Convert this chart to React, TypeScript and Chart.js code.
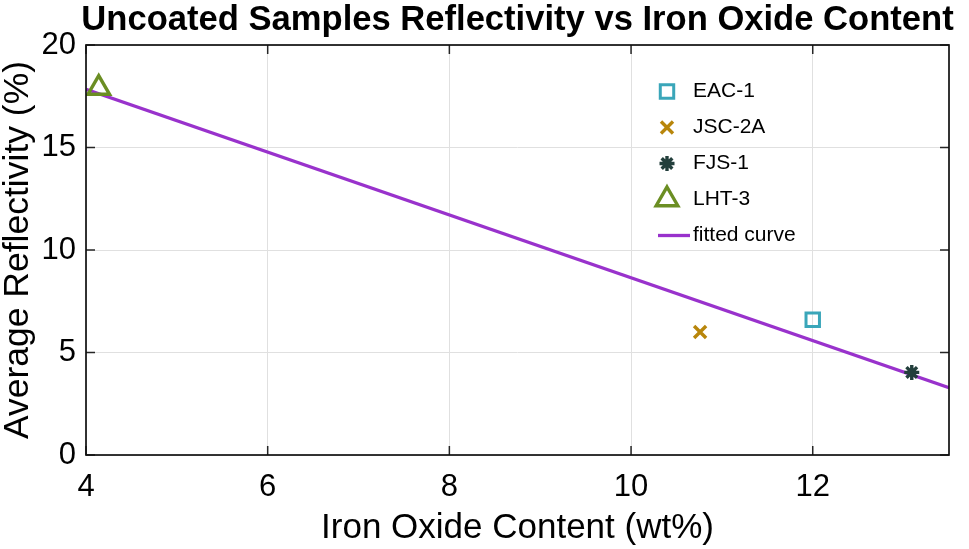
import React, { useEffect, useRef } from 'react';
import { Chart, registerables } from 'chart.js';
import { drawPoint } from 'chart.js/helpers';

Chart.register(...registerables);

const TITLE = 'Uncoated Samples Reflectivity vs Iron Oxide Content';
const X_LABEL = 'Iron Oxide Content (wt%)';
const Y_LABEL = 'Average Reflectivity (%)';

const X_TICKS = [4, 6, 8, 10, 12];
const Y_TICKS = [0, 5, 10, 15, 20];
const X_MIN = 4;
const X_MAX = 13.5;
const Y_MIN = 0;
const Y_MAX = 20;

const EAC1_X = [12.0];
const EAC1_Y = [6.6];
const JSC2A_X = [10.76];
const JSC2A_Y = [6.0];
const FJS1_X = [13.09];
const FJS1_Y = [4.03];
const LHT3_X = [4.14];
const LHT3_Y = [17.9];
const FIT_X = [4, 13.5];
const FIT_Y = [17.84, 3.28];

const FONT = '"Liberation Sans", Arial, Helvetica, sans-serif';

const pts = (xs: number[], ys: number[]) => xs.map((x, i) => ({ x, y: ys[i] }));

const framePlugin = {
  id: 'frameAndLegend',
  afterDatasetsDraw(chart: any) {
    const { ctx, chartArea: a, scales } = chart;
    ctx.save();
    ctx.strokeStyle = '#262626';
    ctx.lineWidth = 1.5;
    const L = 9;
    ctx.beginPath();
    for (const v of X_TICKS) {
      const px = scales.x.getPixelForValue(v);
      ctx.moveTo(px, a.bottom);
      ctx.lineTo(px, a.bottom - L);
      ctx.moveTo(px, a.top);
      ctx.lineTo(px, a.top + L);
    }
    for (const v of Y_TICKS) {
      const py = scales.y.getPixelForValue(v);
      ctx.moveTo(a.left, py);
      ctx.lineTo(a.left + L, py);
      ctx.moveTo(a.right, py);
      ctx.lineTo(a.right - L, py);
    }
    ctx.stroke();
    ctx.strokeStyle = '#111';
    ctx.lineWidth = 1.7;
    ctx.strokeRect(a.left, a.top, a.right - a.left, a.bottom - a.top);
    ctx.restore();
  },
  afterDraw(chart: any) {
    const { ctx, chartArea: a } = chart;
    ctx.save();
    // title
    ctx.fillStyle = '#000';
    ctx.font = `bold 34.6px ${FONT}`;
    ctx.textAlign = 'center';
    ctx.textBaseline = 'alphabetic';
    ctx.fillText(TITLE, (a.left + a.right) / 2, 30);
    // legend
    const mx = a.right - 282;
    const tx = a.right - 256;
    const y0 = a.top + 46.5;
    const step = 36;
    ctx.font = `21px ${FONT}`;
    ctx.textAlign = 'left';
    ctx.textBaseline = 'middle';
    chart.data.datasets.forEach((ds: any, i: number) => {
      const y = y0 + i * step;
      if (ds.showLine) {
        ctx.strokeStyle = ds.borderColor;
        ctx.lineWidth = ds.borderWidth;
        ctx.beginPath();
        ctx.moveTo(mx - 9, y);
        ctx.lineTo(mx + 23, y);
        ctx.stroke();
      } else {
        ctx.strokeStyle = ds.borderColor;
        ctx.fillStyle = 'rgba(0,0,0,0)';
        ctx.lineWidth = ds.borderWidth;
        drawPoint(ctx, { pointStyle: ds.pointStyle, radius: ds.pointRadius, rotation: 0, borderWidth: ds.borderWidth }, mx, y);
      }
      ctx.fillStyle = '#000';
      ctx.fillText(ds.label, tx, y);
    });
    ctx.restore();
  },
};

export default function App() {
  const ref = useRef<HTMLCanvasElement>(null);
  useEffect(() => {
    if (!ref.current) return;
    const chart = new Chart(ref.current, {
      type: 'scatter',
      data: {
        datasets: [
          {
            label: 'EAC-1',
            data: pts(EAC1_X, EAC1_Y),
            pointStyle: 'rect',
            pointRadius: 9.5,
            borderWidth: 3,
            borderColor: '#3AA6B9',
            backgroundColor: 'rgba(0,0,0,0)',
            order: 0,
          },
          {
            label: 'JSC-2A',
            data: pts(JSC2A_X, JSC2A_Y),
            pointStyle: 'crossRot',
            pointRadius: 8.5,
            borderWidth: 3.4,
            borderColor: '#B8860B',
            backgroundColor: 'rgba(0,0,0,0)',
            order: 0,
          },
          {
            label: 'FJS-1',
            data: pts(FJS1_X, FJS1_Y),
            pointStyle: 'star',
            pointRadius: 7.5,
            borderWidth: 3.4,
            borderColor: '#233F3C',
            backgroundColor: 'rgba(0,0,0,0)',
            order: 0,
          },
          {
            label: 'LHT-3',
            data: pts(LHT3_X, LHT3_Y),
            pointStyle: 'triangle',
            pointRadius: 12.5,
            borderWidth: 3.4,
            borderColor: '#6B8E23',
            backgroundColor: 'rgba(0,0,0,0)',
            order: 0,
          },
          {
            label: 'fitted curve',
            data: pts(FIT_X, FIT_Y),
            showLine: true,
            pointRadius: 0,
            borderWidth: 3.3,
            borderColor: '#9932CC',
            backgroundColor: '#9932CC',
            order: 1,
          } as any,
        ],
      },
      options: {
        animation: false,
        responsive: false,
        maintainAspectRatio: false,
        events: [],
        layout: { padding: { top: 45, right: 20, bottom: 0, left: 0 } },
        plugins: { legend: { display: false }, tooltip: { enabled: false }, title: { display: false } },
        scales: {
          x: {
            type: 'linear',
            min: X_MIN,
            max: X_MAX,
            afterBuildTicks: (s: any) => { s.ticks = X_TICKS.map((v) => ({ value: v })); },
            afterFit: (s: any) => { s.height = 94; },
            grid: { color: '#e0e0e0', lineWidth: 1, drawTicks: false },
            border: { display: false },
            ticks: { padding: 14, color: '#000', font: { family: FONT, size: 31 }, maxRotation: 0, autoSkip: false },
            title: { display: true, text: X_LABEL, color: '#000', font: { family: FONT, size: 35, lineHeight: 1 }, padding: { top: 0, bottom: 3 } },
          },
          y: {
            type: 'linear',
            min: Y_MIN,
            max: Y_MAX,
            afterBuildTicks: (s: any) => { s.ticks = Y_TICKS.map((v) => ({ value: v })); },
            afterFit: (s: any) => { s.width = 86; },
            grid: { color: '#e0e0e0', lineWidth: 1, drawTicks: false },
            border: { display: false },
            ticks: { padding: 10, color: '#000', font: { family: FONT, size: 31 }, autoSkip: false },
            title: { display: true, text: Y_LABEL, color: '#000', font: { family: FONT, size: 35.5, lineHeight: 1 }, padding: { top: 0.5, bottom: 0 } },
          },
        },
      },
      plugins: [framePlugin],
    } as any);
    return () => chart.destroy();
  }, []);
  return (
    <div style={{ position: 'fixed', left: 0, top: 0, width: 969, height: 549, background: '#fff' }}>
      <canvas ref={ref} width={969} height={549} style={{ width: 969, height: 549, display: 'block' }} />
    </div>
  );
}
